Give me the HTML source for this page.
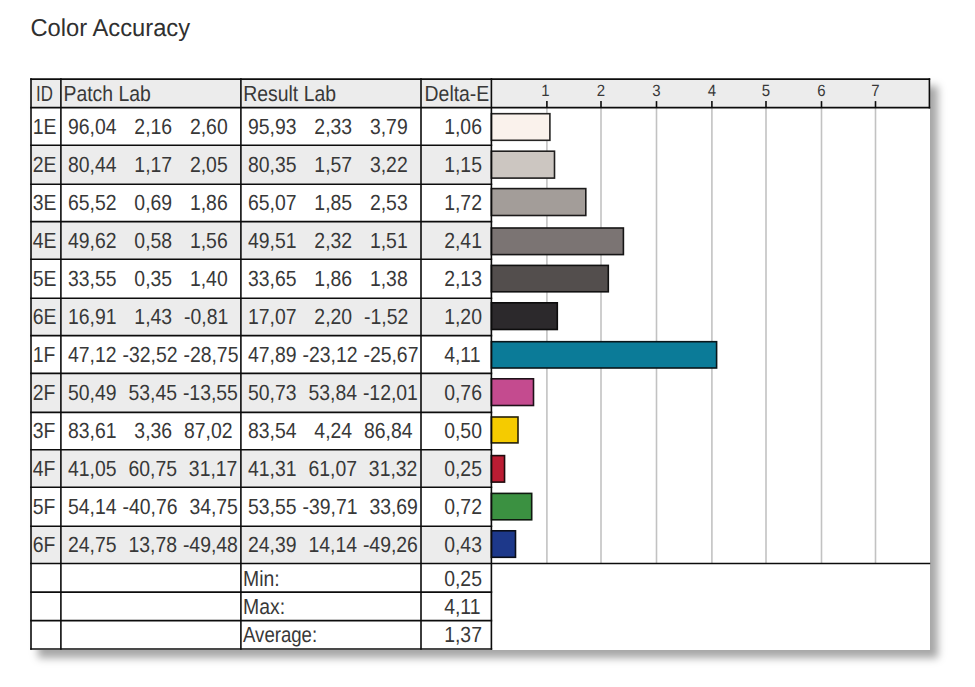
<!DOCTYPE html>
<html><head><meta charset="utf-8"><title>Color Accuracy</title>
<style>
html,body{margin:0;padding:0;background:#fff;width:975px;height:687px;overflow:hidden;position:relative}
.shadow{position:absolute;left:30.2px;top:78.3px;width:900px;height:571.5px;box-shadow:8px 8px 8px rgba(0,0,0,0.35);background:#fff}
</style></head><body>
<div class="shadow"></div>
<svg width="975" height="687" viewBox="0 0 975 687" style="position:absolute;left:0;top:0;text-rendering:geometricPrecision">
<rect x="31.0" y="79.1" width="898.4" height="28.5" fill="#ececec"/>
<rect x="31.0" y="107.6" width="898.4" height="541.4" fill="#ffffff"/>
<rect x="31.0" y="145.30" width="460.4" height="38.90" fill="#ececec"/>
<rect x="31.0" y="221.60" width="460.4" height="37.70" fill="#ececec"/>
<rect x="31.0" y="298.30" width="460.4" height="37.30" fill="#ececec"/>
<rect x="31.0" y="373.40" width="460.4" height="38.95" fill="#ececec"/>
<rect x="31.0" y="449.70" width="460.4" height="37.60" fill="#ececec"/>
<rect x="31.0" y="526.30" width="460.4" height="37.20" fill="#ececec"/>
<line x1="546.9" y1="107.6" x2="546.9" y2="563.5" stroke="#c2c2c2" stroke-width="1.6"/>
<line x1="601.0" y1="107.6" x2="601.0" y2="563.5" stroke="#c2c2c2" stroke-width="1.6"/>
<line x1="656.5" y1="107.6" x2="656.5" y2="563.5" stroke="#c2c2c2" stroke-width="1.6"/>
<line x1="711.9" y1="107.6" x2="711.9" y2="563.5" stroke="#c2c2c2" stroke-width="1.6"/>
<line x1="766.0" y1="107.6" x2="766.0" y2="563.5" stroke="#c2c2c2" stroke-width="1.6"/>
<line x1="821.5" y1="107.6" x2="821.5" y2="563.5" stroke="#c2c2c2" stroke-width="1.6"/>
<line x1="875.5" y1="107.6" x2="875.5" y2="563.5" stroke="#c2c2c2" stroke-width="1.6"/>
<rect x="491.4" y="113.70" width="58.50" height="26.60" fill="#faf2ec" stroke="#262524" stroke-width="1.6"/>
<rect x="491.4" y="151.20" width="63.10" height="26.90" fill="#ccc6c1" stroke="#201f1f" stroke-width="1.6"/>
<rect x="491.4" y="188.60" width="94.40" height="26.90" fill="#a39d99" stroke="#1b1a1a" stroke-width="1.6"/>
<rect x="491.4" y="228.00" width="132.00" height="26.60" fill="#7b7473" stroke="#161515" stroke-width="1.6"/>
<rect x="491.4" y="265.40" width="116.90" height="26.40" fill="#534e4d" stroke="#111111" stroke-width="1.6"/>
<rect x="491.4" y="302.80" width="65.90" height="26.70" fill="#2c292c" stroke="#0d0c0d" stroke-width="1.6"/>
<rect x="491.4" y="341.70" width="225.20" height="26.30" fill="#0b7b98" stroke="#09161a" stroke-width="1.6"/>
<rect x="491.4" y="378.80" width="42.10" height="26.70" fill="#c44b8f" stroke="#1f1119" stroke-width="1.6"/>
<rect x="491.4" y="417.00" width="26.60" height="25.90" fill="#f5cb00" stroke="#252008" stroke-width="1.6"/>
<rect x="491.4" y="455.60" width="13.15" height="26.50" fill="#bb1c33" stroke="#1e0b0e" stroke-width="1.6"/>
<rect x="491.4" y="493.40" width="40.30" height="26.40" fill="#3b9141" stroke="#0f190f" stroke-width="1.6"/>
<rect x="491.4" y="530.80" width="24.10" height="26.50" fill="#1d388a" stroke="#0b0e18" stroke-width="1.6"/>
<line x1="30.2" y1="79.10" x2="930.1999999999999" y2="79.10" stroke="#0c0c0c" stroke-width="1.6"/>
<line x1="30.2" y1="107.60" x2="930.1999999999999" y2="107.60" stroke="#0c0c0c" stroke-width="1.6"/>
<line x1="30.2" y1="145.30" x2="492.2" y2="145.30" stroke="#0c0c0c" stroke-width="1.6"/>
<line x1="30.2" y1="184.20" x2="492.2" y2="184.20" stroke="#0c0c0c" stroke-width="1.6"/>
<line x1="30.2" y1="221.60" x2="492.2" y2="221.60" stroke="#0c0c0c" stroke-width="1.6"/>
<line x1="30.2" y1="259.30" x2="492.2" y2="259.30" stroke="#0c0c0c" stroke-width="1.6"/>
<line x1="30.2" y1="298.30" x2="492.2" y2="298.30" stroke="#0c0c0c" stroke-width="1.6"/>
<line x1="30.2" y1="335.60" x2="492.2" y2="335.60" stroke="#0c0c0c" stroke-width="1.6"/>
<line x1="30.2" y1="373.40" x2="492.2" y2="373.40" stroke="#0c0c0c" stroke-width="1.6"/>
<line x1="30.2" y1="412.35" x2="492.2" y2="412.35" stroke="#0c0c0c" stroke-width="1.6"/>
<line x1="30.2" y1="449.70" x2="492.2" y2="449.70" stroke="#0c0c0c" stroke-width="1.6"/>
<line x1="30.2" y1="487.30" x2="492.2" y2="487.30" stroke="#0c0c0c" stroke-width="1.6"/>
<line x1="30.2" y1="526.30" x2="492.2" y2="526.30" stroke="#0c0c0c" stroke-width="1.6"/>
<line x1="30.2" y1="563.50" x2="930.1999999999999" y2="563.50" stroke="#0c0c0c" stroke-width="1.6"/>
<line x1="30.2" y1="592.10" x2="492.2" y2="592.10" stroke="#0c0c0c" stroke-width="1.6"/>
<line x1="30.2" y1="620.60" x2="492.2" y2="620.60" stroke="#0c0c0c" stroke-width="1.6"/>
<line x1="30.2" y1="649.00" x2="492.2" y2="649.00" stroke="#0c0c0c" stroke-width="1.6"/>
<line x1="31.0" y1="78.30" x2="31.0" y2="649.80" stroke="#0c0c0c" stroke-width="1.6"/>
<line x1="60.9" y1="78.30" x2="60.9" y2="649.80" stroke="#0c0c0c" stroke-width="1.6"/>
<line x1="240.9" y1="78.30" x2="240.9" y2="649.80" stroke="#0c0c0c" stroke-width="1.6"/>
<line x1="421.0" y1="78.30" x2="421.0" y2="649.80" stroke="#0c0c0c" stroke-width="1.6"/>
<line x1="491.4" y1="78.30" x2="491.4" y2="649.80" stroke="#0c0c0c" stroke-width="1.6"/>
<line x1="929.4" y1="78.30" x2="929.4" y2="108.40" stroke="#0c0c0c" stroke-width="1.6"/>
<line x1="546.9" y1="101.1" x2="546.9" y2="107.6" stroke="#0c0c0c" stroke-width="1.6"/>
<line x1="601.0" y1="101.1" x2="601.0" y2="107.6" stroke="#0c0c0c" stroke-width="1.6"/>
<line x1="656.5" y1="101.1" x2="656.5" y2="107.6" stroke="#0c0c0c" stroke-width="1.6"/>
<line x1="711.9" y1="101.1" x2="711.9" y2="107.6" stroke="#0c0c0c" stroke-width="1.6"/>
<line x1="766.0" y1="101.1" x2="766.0" y2="107.6" stroke="#0c0c0c" stroke-width="1.6"/>
<line x1="821.5" y1="101.1" x2="821.5" y2="107.6" stroke="#0c0c0c" stroke-width="1.6"/>
<line x1="875.5" y1="101.1" x2="875.5" y2="107.6" stroke="#0c0c0c" stroke-width="1.6"/>
<g font-family="'Liberation Sans', sans-serif" font-size="19.4" fill="#383838">
<text x="36.00" y="101.00" textLength="16.88" lengthAdjust="spacingAndGlyphs" transform="matrix(1 0 0 1.13 0 -13.130)">ID</text>
<text x="63.50" y="101.00" transform="matrix(1 0 0 1.13 0 -13.130)">Patch Lab</text>
<text x="243.30" y="101.00" transform="matrix(1 0 0 1.13 0 -13.130)">Result Lab</text>
<text x="424.60" y="101.00" transform="matrix(1 0 0 1.13 0 -13.130)">Delta-E</text>
<text x="32.80" y="134.00" transform="matrix(1 0 0 1.13 0 -17.420)">1E</text>
<text x="68.00" y="134.00" transform="matrix(1 0 0 1.13 0 -17.420)">96,04</text>
<text x="134.37" y="134.00" transform="matrix(1 0 0 1.13 0 -17.420)">2,16</text>
<text x="189.95" y="134.00" transform="matrix(1 0 0 1.13 0 -17.420)">2,60</text>
<text x="248.00" y="134.00" transform="matrix(1 0 0 1.13 0 -17.420)">95,93</text>
<text x="314.37" y="134.00" transform="matrix(1 0 0 1.13 0 -17.420)">2,33</text>
<text x="369.95" y="134.00" transform="matrix(1 0 0 1.13 0 -17.420)">3,79</text>
<text x="444.20" y="134.00" transform="matrix(1 0 0 1.13 0 -17.420)">1,06</text>
<text x="32.80" y="172.00" transform="matrix(1 0 0 1.13 0 -22.360)">2E</text>
<text x="68.00" y="172.00" transform="matrix(1 0 0 1.13 0 -22.360)">80,44</text>
<text x="134.37" y="172.00" transform="matrix(1 0 0 1.13 0 -22.360)">1,17</text>
<text x="189.95" y="172.00" transform="matrix(1 0 0 1.13 0 -22.360)">2,05</text>
<text x="248.00" y="172.00" transform="matrix(1 0 0 1.13 0 -22.360)">80,35</text>
<text x="314.37" y="172.00" transform="matrix(1 0 0 1.13 0 -22.360)">1,57</text>
<text x="369.95" y="172.00" transform="matrix(1 0 0 1.13 0 -22.360)">3,22</text>
<text x="444.20" y="172.00" transform="matrix(1 0 0 1.13 0 -22.360)">1,15</text>
<text x="32.80" y="210.00" transform="matrix(1 0 0 1.13 0 -27.300)">3E</text>
<text x="68.00" y="210.00" transform="matrix(1 0 0 1.13 0 -27.300)">65,52</text>
<text x="134.37" y="210.00" transform="matrix(1 0 0 1.13 0 -27.300)">0,69</text>
<text x="189.95" y="210.00" transform="matrix(1 0 0 1.13 0 -27.300)">1,86</text>
<text x="248.00" y="210.00" transform="matrix(1 0 0 1.13 0 -27.300)">65,07</text>
<text x="314.37" y="210.00" transform="matrix(1 0 0 1.13 0 -27.300)">1,85</text>
<text x="369.95" y="210.00" transform="matrix(1 0 0 1.13 0 -27.300)">2,53</text>
<text x="444.20" y="210.00" transform="matrix(1 0 0 1.13 0 -27.300)">1,72</text>
<text x="32.80" y="248.00" transform="matrix(1 0 0 1.13 0 -32.240)">4E</text>
<text x="68.00" y="248.00" transform="matrix(1 0 0 1.13 0 -32.240)">49,62</text>
<text x="134.37" y="248.00" transform="matrix(1 0 0 1.13 0 -32.240)">0,58</text>
<text x="189.95" y="248.00" transform="matrix(1 0 0 1.13 0 -32.240)">1,56</text>
<text x="248.00" y="248.00" transform="matrix(1 0 0 1.13 0 -32.240)">49,51</text>
<text x="314.37" y="248.00" transform="matrix(1 0 0 1.13 0 -32.240)">2,32</text>
<text x="369.95" y="248.00" transform="matrix(1 0 0 1.13 0 -32.240)">1,51</text>
<text x="444.20" y="248.00" transform="matrix(1 0 0 1.13 0 -32.240)">2,41</text>
<text x="32.80" y="286.00" transform="matrix(1 0 0 1.13 0 -37.180)">5E</text>
<text x="68.00" y="286.00" transform="matrix(1 0 0 1.13 0 -37.180)">33,55</text>
<text x="134.37" y="286.00" transform="matrix(1 0 0 1.13 0 -37.180)">0,35</text>
<text x="189.95" y="286.00" transform="matrix(1 0 0 1.13 0 -37.180)">1,40</text>
<text x="248.00" y="286.00" transform="matrix(1 0 0 1.13 0 -37.180)">33,65</text>
<text x="314.37" y="286.00" transform="matrix(1 0 0 1.13 0 -37.180)">1,86</text>
<text x="369.95" y="286.00" transform="matrix(1 0 0 1.13 0 -37.180)">1,38</text>
<text x="444.20" y="286.00" transform="matrix(1 0 0 1.13 0 -37.180)">2,13</text>
<text x="32.80" y="324.00" transform="matrix(1 0 0 1.13 0 -42.120)">6E</text>
<text x="68.00" y="324.00" transform="matrix(1 0 0 1.13 0 -42.120)">16,91</text>
<text x="134.37" y="324.00" transform="matrix(1 0 0 1.13 0 -42.120)">1,43</text>
<text x="184.01" y="324.00" transform="matrix(1 0 0 1.13 0 -42.120)">-0,81</text>
<text x="248.00" y="324.00" transform="matrix(1 0 0 1.13 0 -42.120)">17,07</text>
<text x="314.37" y="324.00" transform="matrix(1 0 0 1.13 0 -42.120)">2,20</text>
<text x="364.01" y="324.00" transform="matrix(1 0 0 1.13 0 -42.120)">-1,52</text>
<text x="444.20" y="324.00" transform="matrix(1 0 0 1.13 0 -42.120)">1,20</text>
<text x="32.80" y="362.00" transform="matrix(1 0 0 1.13 0 -47.060)">1F</text>
<text x="68.00" y="362.00" transform="matrix(1 0 0 1.13 0 -47.060)">47,12</text>
<text x="122.49" y="362.00" transform="matrix(1 0 0 1.13 0 -47.060)">-32,52</text>
<text x="183.44" y="362.00" transform="matrix(1 0 0 1.13 0 -47.060)">-28,75</text>
<text x="248.00" y="362.00" transform="matrix(1 0 0 1.13 0 -47.060)">47,89</text>
<text x="302.49" y="362.00" transform="matrix(1 0 0 1.13 0 -47.060)">-23,12</text>
<text x="363.44" y="362.00" transform="matrix(1 0 0 1.13 0 -47.060)">-25,67</text>
<text x="444.20" y="362.00" transform="matrix(1 0 0 1.13 0 -47.060)">4,11</text>
<text x="32.80" y="400.00" transform="matrix(1 0 0 1.13 0 -52.000)">2F</text>
<text x="68.00" y="400.00" transform="matrix(1 0 0 1.13 0 -52.000)">50,49</text>
<text x="128.43" y="400.00" transform="matrix(1 0 0 1.13 0 -52.000)">53,45</text>
<text x="182.91" y="400.00" transform="matrix(1 0 0 1.13 0 -52.000)">-13,55</text>
<text x="248.00" y="400.00" transform="matrix(1 0 0 1.13 0 -52.000)">50,73</text>
<text x="308.43" y="400.00" transform="matrix(1 0 0 1.13 0 -52.000)">53,84</text>
<text x="362.91" y="400.00" transform="matrix(1 0 0 1.13 0 -52.000)">-12,01</text>
<text x="444.20" y="400.00" transform="matrix(1 0 0 1.13 0 -52.000)">0,76</text>
<text x="32.80" y="438.00" transform="matrix(1 0 0 1.13 0 -56.940)">3F</text>
<text x="68.00" y="438.00" transform="matrix(1 0 0 1.13 0 -56.940)">83,61</text>
<text x="134.37" y="438.00" transform="matrix(1 0 0 1.13 0 -56.940)">3,36</text>
<text x="184.01" y="438.00" transform="matrix(1 0 0 1.13 0 -56.940)">87,02</text>
<text x="248.00" y="438.00" transform="matrix(1 0 0 1.13 0 -56.940)">83,54</text>
<text x="314.37" y="438.00" transform="matrix(1 0 0 1.13 0 -56.940)">4,24</text>
<text x="364.01" y="438.00" transform="matrix(1 0 0 1.13 0 -56.940)">86,84</text>
<text x="444.20" y="438.00" transform="matrix(1 0 0 1.13 0 -56.940)">0,50</text>
<text x="32.80" y="476.00" transform="matrix(1 0 0 1.13 0 -61.880)">4F</text>
<text x="68.00" y="476.00" transform="matrix(1 0 0 1.13 0 -61.880)">41,05</text>
<text x="128.43" y="476.00" transform="matrix(1 0 0 1.13 0 -61.880)">60,75</text>
<text x="188.85" y="476.00" transform="matrix(1 0 0 1.13 0 -61.880)">31,17</text>
<text x="248.00" y="476.00" transform="matrix(1 0 0 1.13 0 -61.880)">41,31</text>
<text x="308.43" y="476.00" transform="matrix(1 0 0 1.13 0 -61.880)">61,07</text>
<text x="368.85" y="476.00" transform="matrix(1 0 0 1.13 0 -61.880)">31,32</text>
<text x="444.20" y="476.00" transform="matrix(1 0 0 1.13 0 -61.880)">0,25</text>
<text x="32.80" y="514.00" transform="matrix(1 0 0 1.13 0 -66.820)">5F</text>
<text x="68.00" y="514.00" transform="matrix(1 0 0 1.13 0 -66.820)">54,14</text>
<text x="122.49" y="514.00" transform="matrix(1 0 0 1.13 0 -66.820)">-40,76</text>
<text x="189.38" y="514.00" transform="matrix(1 0 0 1.13 0 -66.820)">34,75</text>
<text x="248.00" y="514.00" transform="matrix(1 0 0 1.13 0 -66.820)">53,55</text>
<text x="302.49" y="514.00" transform="matrix(1 0 0 1.13 0 -66.820)">-39,71</text>
<text x="369.38" y="514.00" transform="matrix(1 0 0 1.13 0 -66.820)">33,69</text>
<text x="444.20" y="514.00" transform="matrix(1 0 0 1.13 0 -66.820)">0,72</text>
<text x="32.80" y="552.00" transform="matrix(1 0 0 1.13 0 -71.760)">6F</text>
<text x="68.00" y="552.00" transform="matrix(1 0 0 1.13 0 -71.760)">24,75</text>
<text x="128.43" y="552.00" transform="matrix(1 0 0 1.13 0 -71.760)">13,78</text>
<text x="182.91" y="552.00" transform="matrix(1 0 0 1.13 0 -71.760)">-49,48</text>
<text x="248.00" y="552.00" transform="matrix(1 0 0 1.13 0 -71.760)">24,39</text>
<text x="308.43" y="552.00" transform="matrix(1 0 0 1.13 0 -71.760)">14,14</text>
<text x="362.91" y="552.00" transform="matrix(1 0 0 1.13 0 -71.760)">-49,26</text>
<text x="444.20" y="552.00" transform="matrix(1 0 0 1.13 0 -71.760)">0,43</text>
<text x="243.00" y="586.00" transform="matrix(1 0 0 1.13 0 -76.180)">Min:</text>
<text x="444.20" y="586.00" transform="matrix(1 0 0 1.13 0 -76.180)">0,25</text>
<text x="243.00" y="614.00" transform="matrix(1 0 0 1.13 0 -79.820)">Max:</text>
<text x="444.20" y="614.00" transform="matrix(1 0 0 1.13 0 -79.820)">4,11</text>
<text x="243.00" y="642.00" textLength="74.15" lengthAdjust="spacingAndGlyphs" transform="matrix(1 0 0 1.13 0 -83.460)">Average:</text>
<text x="444.20" y="642.00" transform="matrix(1 0 0 1.13 0 -83.460)">1,37</text>
</g>
<g font-family="'Liberation Sans', sans-serif" font-size="15.0" fill="#383838">
<text x="545.40" y="96.00" text-anchor="middle" transform="matrix(1 0 0 1.08 0 -7.680)">1</text>
<text x="601.00" y="96.00" text-anchor="middle" transform="matrix(1 0 0 1.08 0 -7.680)">2</text>
<text x="656.50" y="96.00" text-anchor="middle" transform="matrix(1 0 0 1.08 0 -7.680)">3</text>
<text x="711.90" y="96.00" text-anchor="middle" transform="matrix(1 0 0 1.08 0 -7.680)">4</text>
<text x="766.00" y="96.00" text-anchor="middle" transform="matrix(1 0 0 1.08 0 -7.680)">5</text>
<text x="821.50" y="96.00" text-anchor="middle" transform="matrix(1 0 0 1.08 0 -7.680)">6</text>
<text x="875.50" y="96.00" text-anchor="middle" transform="matrix(1 0 0 1.08 0 -7.680)">7</text>
</g>
<text x="30.4" y="36" font-family="'Liberation Sans', sans-serif" font-size="23.75" fill="#303030" transform="matrix(1 0 0 1.03 0 -1.080)">Color Accuracy</text>
</svg>
</body></html>
